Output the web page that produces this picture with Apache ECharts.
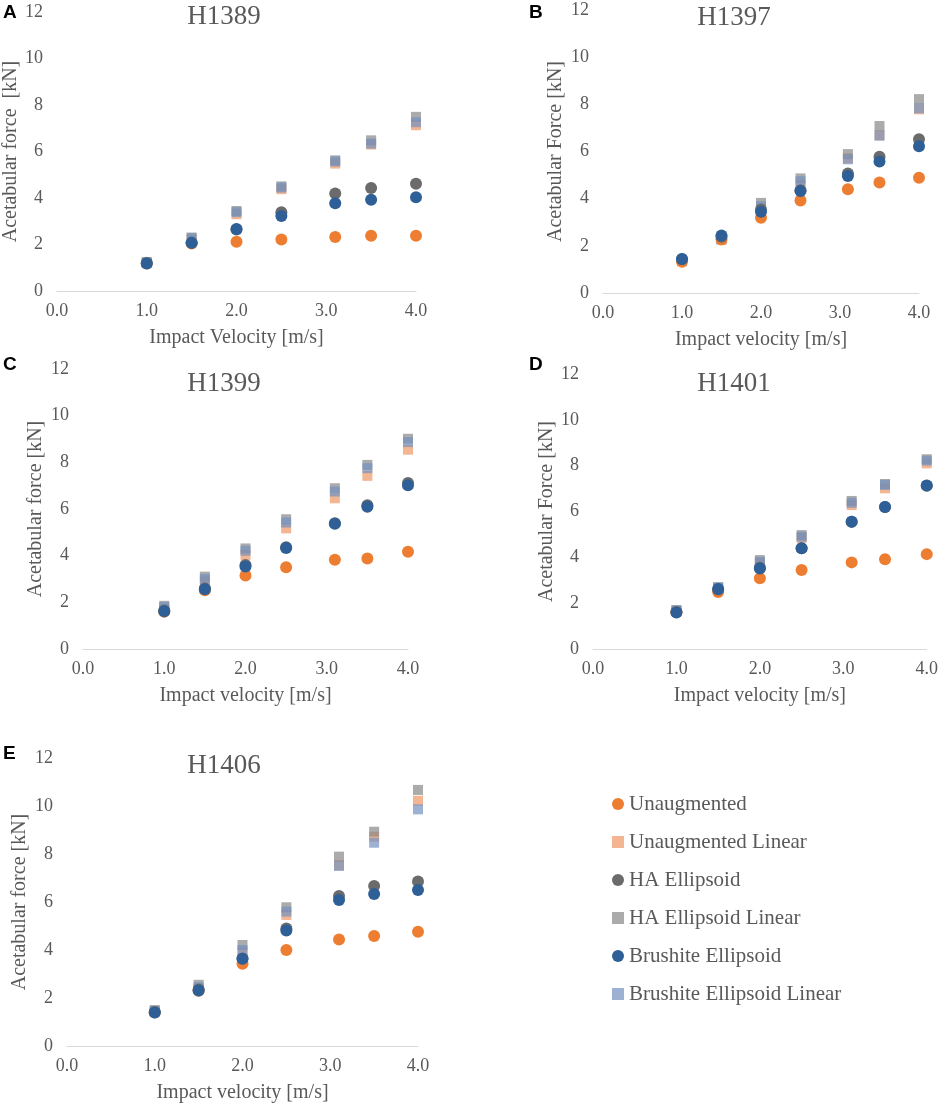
<!DOCTYPE html>
<html>
<head>
<meta charset="utf-8">
<script src="https://cdn.jsdelivr.net/npm/echarts@6/dist/echarts.min.js"></script>
<style>
html,body{margin:0;padding:0;background:#fff;}
#chart{width:941px;height:1107px;}
</style>
</head>
<body>
<div id="chart"></div>
<script>
// ---- Data ----
const velocities = [1.0, 1.5, 2.0, 2.5, 3.1, 3.5, 4.0];
const xTicks = [0, 1, 2, 3, 4];
const yTicks = [0, 2, 4, 6, 8, 10, 12];

const seriesNames = ['Unaugmented', 'Unaugmented Linear', 'HA Ellipsoid', 'HA Ellipsoid Linear', 'Brushite Ellipsoid', 'Brushite Ellipsoid Linear'];
const specimens = ['H1389', 'H1397', 'H1399', 'H1401', 'H1406'];
const panelLetters = ['A', 'B', 'C', 'D', 'E'];
const yTitles = ['Acetabular force  [kN]', 'Acetabular Force [kN]', 'Acetabular force [kN]', 'Acetabular Force [kN]', 'Acetabular force [kN]'];
const xTitles = ['Impact Velocity [m/s]', 'Impact velocity [m/s]', 'Impact velocity [m/s]', 'Impact velocity [m/s]', 'Impact velocity [m/s]'];

// H1389
const h1389Unaug    = [1.18, 2.04, 2.12, 2.22, 2.32, 2.38, 2.38];
const h1389UnaugLin = [1.20, 2.20, 3.30, 4.38, 5.48, 6.30, 7.13];
const h1389HA       = [1.20, 2.07, 2.65, 3.39, 4.19, 4.43, 4.61];
const h1389HALin    = [1.25, 2.30, 3.44, 4.50, 5.62, 6.48, 7.49];
const h1389Br       = [1.18, 2.07, 2.67, 3.23, 3.77, 3.92, 4.03];
const h1389BrLin    = [1.22, 2.27, 3.39, 4.45, 5.57, 6.34, 7.26];
// H1397
const h1397Unaug    = [1.32, 2.27, 3.19, 3.92, 4.40, 4.69, 4.89];
const h1397UnaugLin = [1.35, 2.25, 3.50, 4.58, 5.71, 6.69, 7.79];
const h1397HA       = [1.43, 2.38, 3.54, 4.36, 5.07, 5.78, 6.52];
const h1397HALin    = [1.40, 2.30, 3.82, 4.86, 5.89, 7.08, 8.22];
const h1397Br       = [1.44, 2.44, 3.44, 4.32, 4.96, 5.58, 6.22];
const h1397BrLin    = [1.38, 2.30, 3.68, 4.74, 5.67, 6.67, 7.83];
// H1399
const h1399Unaug    = [1.60, 2.52, 3.15, 3.50, 3.83, 3.88, 4.17];
const h1399UnaugLin = [1.70, 2.90, 4.03, 5.17, 6.46, 7.42, 8.54];
const h1399HA       = [1.65, 2.60, 3.60, 4.36, 5.39, 6.16, 7.11];
const h1399HALin    = [1.85, 3.10, 4.31, 5.56, 6.89, 7.89, 9.01];
const h1399Br       = [1.62, 2.56, 3.54, 4.33, 5.37, 6.10, 7.02];
const h1399BrLin    = [1.80, 3.00, 4.21, 5.42, 6.75, 7.75, 8.87];
// H1401
const h1401Unaug    = [1.60, 2.49, 3.09, 3.45, 3.78, 3.92, 4.14];
const h1401UnaugLin = [1.65, 2.65, 3.75, 4.85, 6.28, 7.01, 8.10];
const h1401HA       = [1.62, 2.60, 3.55, 4.40, 5.55, 6.20, 7.12];
const h1401HALin    = [1.70, 2.70, 3.88, 4.97, 6.46, 7.20, 8.28];
const h1401Br       = [1.59, 2.62, 3.51, 4.40, 5.55, 6.20, 7.14];
const h1401BrLin    = [1.68, 2.68, 3.80, 4.90, 6.38, 7.16, 8.22];
// H1406
const h1406Unaug    = [1.40, 2.30, 3.43, 4.00, 4.44, 4.58, 4.76];
const h1406UnaugLin = [1.45, 2.40, 3.90, 5.46, 7.54, 8.72, 10.22];
const h1406HA       = [1.42, 2.35, 3.65, 4.90, 6.25, 6.67, 6.85];
const h1406HALin    = [1.50, 2.55, 4.21, 5.78, 7.89, 8.93, 10.67];
const h1406Br       = [1.40, 2.31, 3.64, 4.81, 6.08, 6.33, 6.50];
const h1406BrLin    = [1.45, 2.45, 4.00, 5.60, 7.50, 8.47, 9.86];

const panelData = [
  [h1389Unaug, h1389UnaugLin, h1389HA, h1389HALin, h1389Br, h1389BrLin],
  [h1397Unaug, h1397UnaugLin, h1397HA, h1397HALin, h1397Br, h1397BrLin],
  [h1399Unaug, h1399UnaugLin, h1399HA, h1399HALin, h1399Br, h1399BrLin],
  [h1401Unaug, h1401UnaugLin, h1401HA, h1401HALin, h1401Br, h1401BrLin],
  [h1406Unaug, h1406UnaugLin, h1406HA, h1406HALin, h1406Br, h1406BrLin]
];

// ---- Layout / style ----
const grids = [
  {left: 57,  top: 12,  width: 359, height: 279},
  {left: 603, top: 10,  width: 316, height: 283},
  {left: 83,  top: 369, width: 325, height: 280},
  {left: 593, top: 374, width: 334, height: 275},
  {left: 67,  top: 758, width: 351, height: 288}
];
const titlePos = [[219, 13], [729, 14], [219, 380], [729, 380], [219, 762]];
const letterPos = [[10, 13], [536, 13], [10, 365], [536, 365], [10, 754]];
const yNameGap = [33, 37, 37, 36, 37];

const colors = ['#ED7D31', 'rgba(240,150,100,0.7)', '#6B6B6B', 'rgba(135,135,135,0.7)', '#2E5F96', 'rgba(115,146,192,0.7)'];
const symbols = ['circle', 'rect', 'circle', 'rect', 'circle', 'rect'];
const drawOrder = [1, 3, 5, 0, 2, 4];
const serif = '"Liberation Serif", "Times New Roman", serif';
const textColor = '#595959';

const option = {
  animation: false,
  backgroundColor: '#ffffff',
  title: specimens.map((s, i) => ({
    text: s,
    left: titlePos[i][0],
    top: titlePos[i][1] - 15,
    textAlign: 'center',
    textStyle: {fontFamily: serif, fontSize: 27, fontWeight: 'normal', color: textColor}
  })),
  grid: grids.map(g => Object.assign({containLabel: false}, g)),
  xAxis: grids.map((g, i) => ({
    type: 'value', gridIndex: i, min: 0, max: 4, interval: 1,
    name: xTitles[i], nameLocation: 'middle', nameGap: 37,
    nameTextStyle: {fontFamily: serif, fontSize: 20, color: textColor},
    axisLine: {show: true, onZero: false, lineStyle: {color: '#D9D9D9', width: 1}},
    axisTick: {show: false},
    splitLine: {show: false},
    axisLabel: {fontFamily: serif, fontSize: 18, color: textColor, margin: 11,
      formatter: v => v.toFixed(1)}
  })),
  yAxis: grids.map((g, i) => ({
    type: 'value', gridIndex: i, min: 0, max: 12, interval: 2,
    name: yTitles[i], nameLocation: 'middle', nameGap: yNameGap[i], nameRotate: 90,
    nameTextStyle: {fontFamily: serif, fontSize: 20, color: textColor},
    axisLine: {show: false}, axisTick: {show: false}, splitLine: {show: false},
    axisLabel: {fontFamily: serif, fontSize: 18, color: textColor, margin: 14}
  })),
  legend: {
    orient: 'vertical', left: 607, top: 788,
    itemWidth: 12, itemHeight: 12, itemGap: 16, itemTextGap: 6,
    textStyle: {fontFamily: serif, fontSize: 21, color: textColor, lineHeight: 22},
    data: seriesNames.map((n, k) => ({name: n, icon: symbols[k] === 'rect' ? 'rect' : 'circle'}))
  },
  graphic: panelLetters.map((l, i) => ({
    type: 'text', left: letterPos[i][0] - 7, top: letterPos[i][1] - 10,
    style: {text: l, font: 'bold 19px "Liberation Sans", Arial, sans-serif', fill: '#000'}
  })),
  series: []
};

panelData.forEach((arrs, p) => {
  drawOrder.forEach(k => {
    option.series.push({
      name: seriesNames[k],
      type: 'scatter',
      xAxisIndex: p, yAxisIndex: p,
      symbol: symbols[k],
      symbolSize: symbols[k] === 'rect' ? 10 : 12,
      itemStyle: {color: colors[k], opacity: 1},
      data: velocities.map((v, j) => [v, arrs[k][j]])
    });
  });
});

const chart = echarts.init(document.getElementById('chart'), null, {renderer: 'canvas'});
chart.setOption(option);
</script>
</body>
</html>
